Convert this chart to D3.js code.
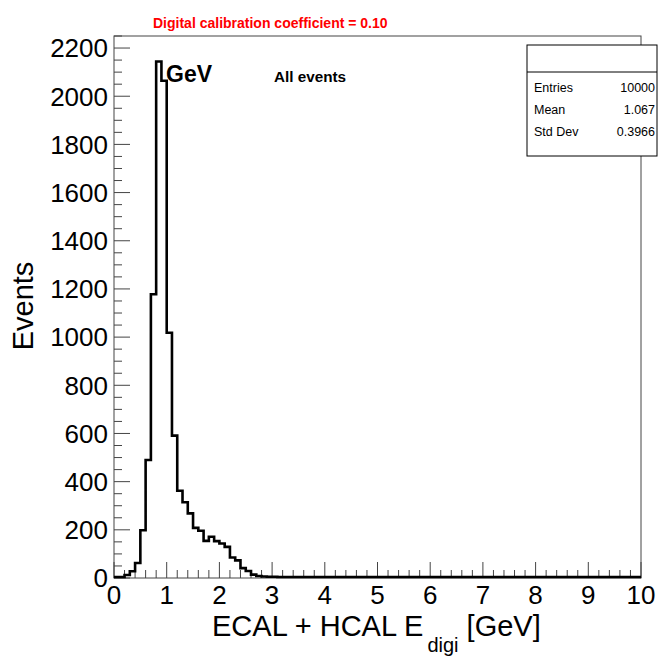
<!DOCTYPE html>
<html>
<head>
<meta charset="utf-8">
<script src="https://cdn.jsdelivr.net/npm/d3@7"></script>
<style>
  html, body { margin: 0; padding: 0; background: #fff; }
  svg { display: block; font-family: "Liberation Sans", Arial, Helvetica, sans-serif; }
</style>
</head>
<body>
<svg id="chart" width="670" height="656"></svg>
<script>
// ---- data ----
const binWidth = 0.1;
const binStart = 0;
const counts = [
  0, 0, 8, 24, 58, 194, 486, 1174, 2140, 2060,
  1014, 587, 358, 310, 264, 204, 192, 150, 167, 149,
  139, 125, 81, 69, 37, 25, 10, 4, 2, 1,
  1, 0, 0, 0, 0, 0, 0, 0, 0, 0,
  0, 0, 0, 0, 0, 0, 0, 0, 0, 0,
  0, 0, 0, 0, 0, 0, 0, 0, 0, 0,
  0, 0, 0, 0, 0, 0, 0, 0, 0, 0,
  0, 0, 0, 0, 0, 0, 0, 0, 0, 0,
  0, 0, 0, 0, 0, 0, 0, 0, 0, 0,
  0, 0, 0, 0, 0, 0, 0, 0, 0, 0
];
const xTicks = [0, 1, 2, 3, 4, 5, 6, 7, 8, 9, 10];
const yTicks = [0, 200, 400, 600, 800, 1000, 1200, 1400, 1600, 1800, 2000, 2200];
const statsLabels = ["Entries", "Mean", "Std Dev"];
const statsValues = ["10000", "1.067", "0.3966"];
const titleText = "Digital calibration coefficient = 0.10";
const energyLabel = "GeV";
const selectionLabel = "All events";

// ---- layout ----
const svg = d3.select("#chart");
const L = 114, R = 641, T = 36, B = 578;
const x = d3.scaleLinear().domain([0, 10]).range([L, R]);
const y = d3.scaleLinear().domain([0, 2250]).range([B, T]);
const axisCol = "#444";

// frame
svg.append("rect").attr("x", L).attr("y", T).attr("width", R - L).attr("height", B - T)
  .attr("fill", "none").attr("stroke", axisCol).attr("stroke-width", 1);

// y ticks (inside)
const yMinor = d3.range(0, 2251, 50);
svg.append("g").selectAll("line").data(yMinor).join("line")
  .attr("x1", L).attr("x2", d => L + (d % 200 === 0 ? 16 : 8))
  .attr("y1", d => y(d)).attr("y2", d => y(d))
  .attr("stroke", axisCol).attr("stroke-width", 1);
svg.append("g").selectAll("text").data(yTicks).join("text")
  .attr("x", 108).attr("y", d => y(d)).attr("dy", "0.36em")
  .attr("text-anchor", "end").attr("font-size", 26).attr("fill", "#000")
  .text(d => d);

// x ticks (inside)
const xMinor = d3.range(0, 50.5, 1).map(i => i * 0.2);
svg.append("g").selectAll("line").data(xMinor).join("line")
  .attr("x1", d => x(d)).attr("x2", d => x(d))
  .attr("y1", B).attr("y2", d => B - (Math.abs(d - Math.round(d)) < 1e-6 ? 16 : 8))
  .attr("stroke", axisCol).attr("stroke-width", 1);
svg.append("g").selectAll("text").data(xTicks).join("text")
  .attr("x", d => x(d)).attr("y", 604)
  .attr("text-anchor", "middle").attr("font-size", 26).attr("fill", "#000")
  .text(d => d);

// histogram outline
const pts = [[binStart, 0]];
counts.forEach((c, i) => {
  const x0 = binStart + i * binWidth, x1 = x0 + binWidth;
  pts.push([x0, c]); pts.push([x1, c]);
});
pts.push([binStart + counts.length * binWidth, 0]);
svg.append("path")
  .attr("d", d3.line().x(d => x(d[0])).y(d => y(d[1]) - 1)(pts))
  .attr("fill", "none").attr("stroke", "#000").attr("stroke-width", 2.6)
  .attr("stroke-linejoin", "miter");

// axis titles
svg.append("text").attr("transform", "translate(33,306) rotate(-90)")
  .attr("text-anchor", "middle").attr("font-size", 29).text("Events");

const xt = svg.append("text").attr("x", 212).attr("y", 636).attr("font-size", 29);
xt.append("tspan").text("ECAL + HCAL E");
xt.append("tspan").attr("font-size", 20).attr("dx", 4).attr("dy", 16).text("digi");
xt.append("tspan").attr("dy", -16).text(" [GeV]");

// title and labels
svg.append("text").attr("x", 153).attr("y", 28).attr("font-size", 14)
  .attr("font-weight", "bold").attr("fill", "#ff0000").text(titleText);
svg.append("text").attr("x", 166).attr("y", 82).attr("font-size", 23)
  .attr("font-weight", "bold").text(energyLabel);
svg.append("text").attr("x", 274).attr("y", 82).attr("font-size", 14)
  .attr("font-weight", "bold").attr("textLength", 72).attr("lengthAdjust", "spacingAndGlyphs")
  .text(selectionLabel);

// stats box
const sb = { x: 527, y: 45, w: 130, h: 111, head: 27 };
svg.append("rect").attr("x", sb.x).attr("y", sb.y).attr("width", sb.w).attr("height", sb.h)
  .attr("fill", "#fff").attr("stroke", "#000").attr("stroke-width", 1);
svg.append("line").attr("x1", sb.x).attr("x2", sb.x + sb.w)
  .attr("y1", sb.y + sb.head).attr("y2", sb.y + sb.head).attr("stroke", "#000");
statsLabels.forEach((lab, i) => {
  const yy = 91.5 + i * 22.3;
  svg.append("text").attr("x", 534).attr("y", yy).attr("font-size", 12.5).text(lab);
  svg.append("text").attr("x", 655).attr("y", yy).attr("font-size", 12.5)
    .attr("text-anchor", "end").text(statsValues[i]);
});
</script>
</body>
</html>
